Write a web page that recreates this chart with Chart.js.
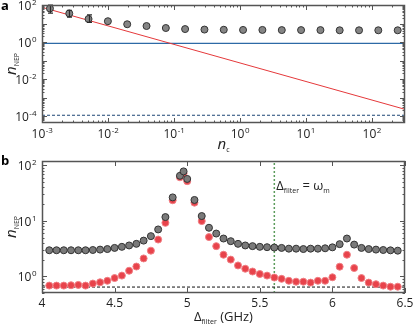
<!DOCTYPE html>
<html>
<head>
<meta charset="utf-8">
<script src="https://cdn.jsdelivr.net/npm/chart.js@4.4.1/dist/chart.umd.min.js"></script>
<style>
html, body { margin: 0; padding: 0; background: #fff; }
#wrap { position: relative; width: 415px; height: 327px; overflow: hidden; }
canvas { position: absolute; left: 0; }
#chart-a { top: 0; }
#chart-b { top: 155px; }
</style>
</head>
<body>
<div id="wrap">
  <canvas id="chart-a" width="415" height="160"></canvas>
  <canvas id="chart-b" width="415" height="172"></canvas>
</div>
<script>
// ---- panel a : n_NEP vs n_c ----
const ncValues = [0.00132, 0.00259, 0.00508, 0.00998, 0.0196, 0.0385, 0.0755, 0.148, 0.291, 0.571,
                  1.12, 2.2, 4.33, 8.49, 16.7, 32.7, 64.3, 126, 248];
const nepMeasured = [65, 35, 17.5, 13.3, 9.1, 7.3, 5.7, 5.0, 4.7, 4.6,
                     4.5, 4.5, 4.4, 4.4, 4.4, 4.3, 4.3, 4.3, 4.3];
const errHigh = [110, 52, 29];
const errLow = [36, 22, 11.5];
const redLineX = [0.001, 320];
const redLineY = [75, 2.3e-4];
const blueLevel = 0.85;
const dashedLevel = 1.1e-4;
const aXTicks = [-3, -2, -1, 0, 1, 2];   // exponents
const aYTicks = [-4, -2, 0, 2];

// ---- panel b : n_NEP vs filter detuning ----
const filterGHz = [4.05, 4.1, 4.15, 4.2, 4.25, 4.3, 4.35, 4.4, 4.45, 4.5,
                   4.55, 4.6, 4.65, 4.7, 4.75, 4.8, 4.85, 4.9, 4.95, 4.975,
                   5.0, 5.05, 5.1, 5.15, 5.2, 5.25, 5.3, 5.35, 5.4, 5.45,
                   5.5, 5.55, 5.6, 5.65, 5.7, 5.75, 5.8, 5.85, 5.9, 5.95,
                   6.0, 6.05, 6.1, 6.15, 6.2, 6.25, 6.3, 6.35, 6.4, 6.45];
const nepTotal = [2.95, 2.95, 2.95, 2.95, 2.95, 2.95, 2.98, 3.03, 3.1, 3.25,
                  3.4, 3.6, 3.85, 4.4, 5.3, 7.0, 11.7, 26.5, 65, 78,
                  57, 23.8, 12.2, 7.5, 5.9, 4.8, 4.3, 3.85, 3.6, 3.5,
                  3.4, 3.35, 3.3, 3.25, 3.15, 3.15, 3.1, 3.15, 3.15, 3.2,
                  3.33, 3.8, 4.8, 3.73, 3.25, 3.1, 3.03, 2.98, 2.94, 2.9];
const nepCorrected = [0.68, 0.68, 0.68, 0.69, 0.7, 0.68, 0.74, 0.78, 0.83, 0.93,
                      1.03, 1.26, 1.5, 2.1, 2.9, 4.6, 9.2, 23.5, 61, 72,
                      52, 21.3, 9.9, 5.1, 3.5, 2.45, 2.0, 1.57, 1.37, 1.22,
                      1.1, 1.03, 0.95, 0.9, 0.83, 0.8, 0.8, 0.77, 0.83, 0.83,
                      0.96, 1.49, 2.45, 1.41, 0.93, 0.77, 0.72, 0.68, 0.65, 0.65];
const floorLevel = 0.64;
const omegaM = 5.6;
const bXTicks = [4, 4.5, 5, 5.5, 6, 6.5];
const bXLabels = ["4", "4.5", "5", "5.5", "6", "6.5"];
const bYTicks = [0, 1, 2];   // exponents

const FONT = '"Open Sans", "Liberation Sans", sans-serif';

const drawPow = (ctx, exp, x, y, align) => {
    // "10" with raised exponent, y is baseline
    ctx.font = "12px " + FONT;
    const wBase = ctx.measureText("10").width;
    ctx.font = "8px " + FONT;
    const expText = String(exp);
    const wExp = ctx.measureText(expText).width;
    let left = x;
    if (align === "center") left = x - (wBase + wExp) / 2;
    if (align === "right") left = x - (wBase + wExp);
    ctx.textAlign = "left";
    ctx.font = "12px " + FONT;
    ctx.fillText("10", left, y);
    ctx.font = "8px " + FONT;
    ctx.fillText(expText, left + wBase + 0.5, y - 5);
};

const drawSubText = (ctx, parts, x, y, rotate) => {
    // parts: [text, size, italic, dy]
    ctx.save();
    ctx.translate(x, y);
    if (rotate) ctx.rotate(-Math.PI / 2);
    let total = 0;
    parts.forEach(p => {
        ctx.font = (p[2] ? "italic " : "") + p[1] + "px " + FONT;
        total += ctx.measureText(p[0]).width;
    });
    let cx = -total / 2;
    ctx.textAlign = "left";
    parts.forEach(p => {
        ctx.font = (p[2] ? "italic " : "") + p[1] + "px " + FONT;
        ctx.fillText(p[0], cx, p[3]);
        cx += ctx.measureText(p[0]).width;
    });
    ctx.restore();
};

const logTicks = (min, max) => {
    const out = [];
    for (let d = Math.floor(Math.log10(min)); d <= Math.ceil(Math.log10(max)); d++) {
        for (let m = 1; m < 10; m++) {
            const v = m * Math.pow(10, d);
            if (v >= min && v <= max) out.push([v, m === 1]);
        }
    }
    return out;
};

const framePlugin = {
    id: "frame",
    afterDatasetsDraw(chart, args, opts) {
        const { ctx, chartArea: a } = chart;
        const xs = chart.scales.x, ys = chart.scales.y;
        ctx.save();
        if (opts.errors) {
            // error bars on the first points
            ctx.strokeStyle = "#2a2a2a";
            ctx.lineWidth = 1.2;
            opts.errors.high.forEach((hi, i) => {
                const px = Math.round(xs.getPixelForValue(opts.errors.x[i])) + 0.5;
                const top = Math.max(ys.getPixelForValue(hi), a.top);
                const bot = ys.getPixelForValue(opts.errors.low[i]);
                ctx.beginPath();
                ctx.moveTo(px, top); ctx.lineTo(px, bot);
                ctx.moveTo(px - 2.5, top); ctx.lineTo(px + 2.5, top);
                ctx.moveTo(px - 2.5, bot); ctx.lineTo(px + 2.5, bot);
                ctx.stroke();
            });
        }
        ctx.strokeStyle = "#555";
        ctx.lineWidth = 1;
        const xt = opts.xLog ? logTicks(xs.min, xs.max) : opts.xMajor.map(v => [v, true]);
        const yt = logTicks(ys.min, ys.max);
        ctx.beginPath();
        xt.forEach(([v, major]) => {
            const px = Math.round(xs.getPixelForValue(v)) + 0.5;
            const len = major ? 5 : 2.5;
            ctx.moveTo(px, a.bottom); ctx.lineTo(px, a.bottom - len);
            ctx.moveTo(px, a.top); ctx.lineTo(px, a.top + len);
        });
        yt.forEach(([v, major]) => {
            const py = Math.round(ys.getPixelForValue(v)) + 0.5;
            const len = major ? 5 : 2.5;
            ctx.moveTo(a.left, py); ctx.lineTo(a.left + len, py);
            ctx.moveTo(a.right, py); ctx.lineTo(a.right - len, py);
        });
        ctx.stroke();
        ctx.lineWidth = 1.5;
        ctx.strokeRect(a.left + 0.5, a.top + 0.5, a.width - 1, a.height - 1);

        ctx.fillStyle = "#222";
        ctx.textBaseline = "alphabetic";
        opts.yLabels.forEach(e => {
            drawPow(ctx, e, a.left - 6, ys.getPixelForValue(Math.pow(10, e)) + 5, "right");
        });
        if (opts.xLog) {
            opts.xLabels.forEach(e => {
                drawPow(ctx, e, xs.getPixelForValue(Math.pow(10, e)), a.bottom + 15, "center");
            });
        } else {
            ctx.font = "12px " + FONT;
            ctx.textAlign = "center";
            opts.xMajor.forEach((v, i) => {
                ctx.fillText(opts.xText[i], xs.getPixelForValue(v), a.bottom + 14);
            });
        }
        // y title
        drawSubText(ctx, [["n", 15, true, 0], ["NEP", 7, false, 3]], 16, (a.top + a.bottom) / 2, true);
        // x title
        drawSubText(ctx, opts.xTitle, (a.left + a.right) / 2, opts.xTitleY, false);
        // panel letter
        ctx.font = "bold 13px " + FONT;
        ctx.textAlign = "left";
        ctx.fillStyle = "#000";
        ctx.fillText(opts.letter, 1, opts.letterY);
        if (opts.note) {
            ctx.fillStyle = "#222";
            const n = opts.note;
            ctx.save();
            ctx.translate(xs.getPixelForValue(n.x) + 2, n.y);
            let cx = 0;
            n.parts.forEach(p => {
                ctx.font = p[1] + "px " + FONT;
                ctx.fillText(p[0], cx, p[3]);
                cx += ctx.measureText(p[0]).width;
            });
            ctx.restore();
        }
        ctx.restore();
    }
};

const fixedSize = (w, h) => (s) => {
    if (s.isHorizontal()) s.height = h; else s.width = w;
};

// ---- chart a ----
new Chart(document.getElementById("chart-a"), {
    type: "scatter",
    data: {
        datasets: [
            {
                data: ncValues.map((x, i) => ({ x: x, y: nepMeasured[i] })),
                backgroundColor: "#858585",
                borderColor: "#333",
                borderWidth: 1,
                pointRadius: 3.5
            },
            {
                type: "line",
                data: redLineX.map((x, i) => ({ x: x, y: redLineY[i] })),
                borderColor: "#e5393b",
                borderWidth: 1,
                pointRadius: 0
            },
            {
                type: "line",
                data: [{ x: 0.001, y: blueLevel }, { x: 320, y: blueLevel }],
                borderColor: "#2d6aa6",
                borderWidth: 1.3,
                pointRadius: 0
            },
            {
                type: "line",
                data: [{ x: 0.001, y: dashedLevel }, { x: 320, y: dashedLevel }],
                borderColor: "#1d4576",
                borderWidth: 1.2,
                borderDash: [3, 2],
                pointRadius: 0
            }
        ]
    },
    options: {
        responsive: false,
        animation: false,
        devicePixelRatio: 1,
        layout: { autoPadding: false, padding: { left: 0, right: 10, top: 5, bottom: 0 } },
        scales: {
            x: {
                type: "logarithmic", min: 0.001, max: 320,
                ticks: { display: false }, grid: { display: false }, border: { display: false },
                afterFit: fixedSize(42, 37)
            },
            y: {
                type: "logarithmic", min: 4.2e-5, max: 100,
                ticks: { display: false }, grid: { display: false }, border: { display: false },
                afterFit: fixedSize(42, 37)
            }
        },
        plugins: {
            legend: { display: false },
            tooltip: { enabled: false },
            frame: {
                xLog: true,
                xLabels: aXTicks,
                yLabels: aYTicks,
                xTitle: [["n", 15, true, 0], ["c", 7, false, 3]],
                xTitleY: 149,
                letter: "a",
                letterY: 10,
                errors: { x: ncValues.slice(0, 3), high: errHigh, low: errLow }
            }
        }
    },
    plugins: [framePlugin]
});

// ---- chart b ----
new Chart(document.getElementById("chart-b"), {
    type: "scatter",
    data: {
        datasets: [
            {
                data: filterGHz.map((x, i) => ({ x: x, y: nepTotal[i] })),
                backgroundColor: "#7a7a7a",
                borderColor: "#333",
                borderWidth: 1,
                pointRadius: 3.5
            },
            {
                data: filterGHz.map((x, i) => ({ x: x, y: nepCorrected[i] })),
                backgroundColor: "#e8434b",
                borderColor: "#f07e83",
                borderWidth: 1,
                pointRadius: 3.5
            },
            {
                type: "line",
                data: [{ x: 4, y: floorLevel }, { x: 6.5, y: floorLevel }],
                borderColor: "#111",
                borderWidth: 1,
                borderDash: [3, 2],
                pointRadius: 0
            },
            {
                type: "line",
                data: [{ x: omegaM, y: 0.5 }, { x: omegaM, y: 120 }],
                borderColor: "#5c9c5c",
                borderWidth: 1.5,
                borderDash: [2, 2],
                pointRadius: 0
            }
        ]
    },
    options: {
        responsive: false,
        animation: false,
        devicePixelRatio: 1,
        layout: { autoPadding: false, padding: { left: 0, right: 10, top: 6, bottom: 0 } },
        scales: {
            x: {
                type: "linear", min: 4, max: 6.5,
                ticks: { display: false }, grid: { display: false }, border: { display: false },
                afterFit: fixedSize(42, 34)
            },
            y: {
                type: "logarithmic", min: 0.5, max: 120,
                ticks: { display: false }, grid: { display: false }, border: { display: false },
                afterFit: fixedSize(42, 34)
            }
        },
        plugins: {
            legend: { display: false },
            tooltip: { enabled: false },
            frame: {
                xLog: false,
                xMajor: bXTicks,
                xText: bXLabels,
                yLabels: bYTicks,
                xTitle: [["\u0394", 13, false, 0], ["filter", 7, false, 3], [" (GHz)", 13, false, 0]],
                xTitleY: 166,
                letter: "b",
                letterY: 10,
                note: {
                    x: omegaM, y: 35,
                    parts: [["\u0394", 13, false, 0], ["filter", 7, false, 3], [" = \u03c9", 13, false, 0], ["m", 7, false, 3]]
                }
            }
        }
    },
    plugins: [framePlugin]
});
</script>
</body>
</html>
